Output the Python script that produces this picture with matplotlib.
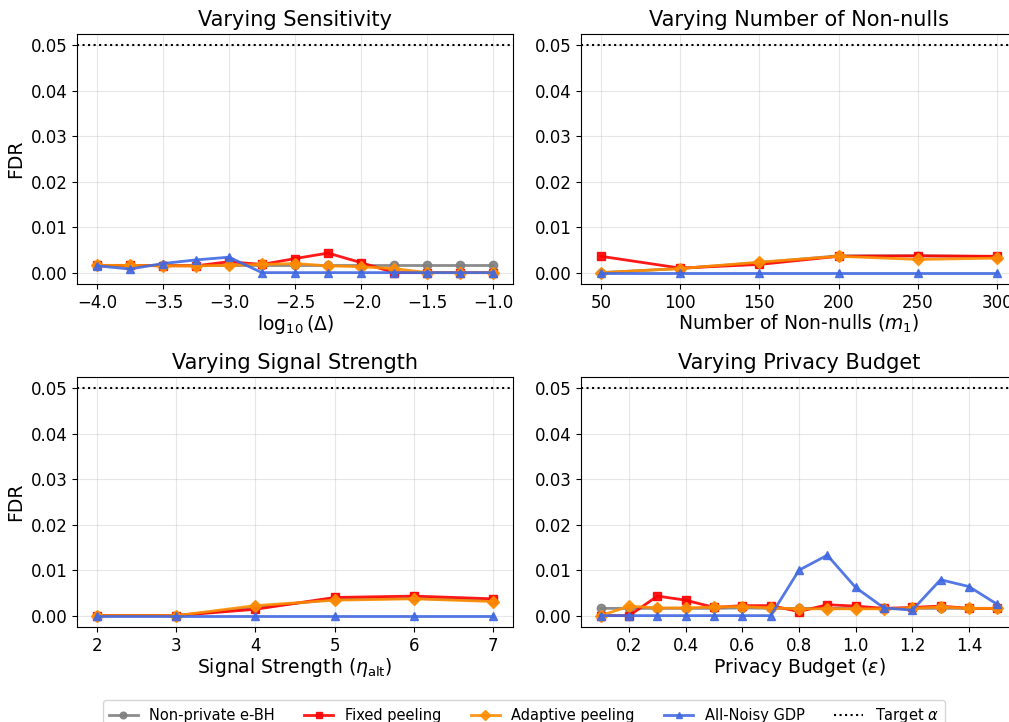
import matplotlib

matplotlib.use("Agg")
import matplotlib.pyplot as plt
import numpy as np

# ---- data ----
delta_log = [-4.0, -3.75, -3.5, -3.25, -3.0, -2.75, -2.5, -2.25, -2.0, -1.75, -1.5, -1.25, -1.0]
sens_ebh = [0.0016, 0.0016, 0.0016, 0.0016, 0.0016, 0.0016, 0.0016, 0.0016, 0.0016, 0.0016, 0.0016, 0.0016, 0.0016]
sens_fixed = [0.0016, 0.0016, 0.0015, 0.0015, 0.0024, 0.0018, 0.0031, 0.0043, 0.0022, 0.0, 0.0, 0.0, 0.0]
sens_adapt = [0.0016, 0.0016, 0.0015, 0.0015, 0.0016, 0.0018, 0.0020, 0.0015, 0.0013, 0.0009, 0.0, 0.0, 0.0]
sens_gdp = [0.0015, 0.0008, 0.0020, 0.0028, 0.0034, 0.0, 0.0, 0.0, 0.0, 0.0, 0.0, 0.0, 0.0]

m1 = [50, 100, 150, 200, 250, 300]
m1_ebh = [0.0, 0.0009, 0.0022, 0.0037, 0.0037, 0.0035]
m1_fixed = [0.0036, 0.0010, 0.0018, 0.0036, 0.0037, 0.0036]
m1_adapt = [0.0, 0.0009, 0.0023, 0.0036, 0.0029, 0.0032]
m1_gdp = [0.0, 0.0, 0.0, 0.0, 0.0, 0.0]

eta = [2, 3, 4, 5, 6, 7]
eta_ebh = [0.0, 0.0, 0.0018, 0.0036, 0.0038, 0.0033]
eta_fixed = [0.0, 0.0, 0.0014, 0.0040, 0.0043, 0.0037]
eta_adapt = [0.0, 0.0, 0.0022, 0.0034, 0.0037, 0.0031]
eta_gdp = [0.0, 0.0, 0.0, 0.0, 0.0, 0.0]

eps = [0.1, 0.2, 0.3, 0.4, 0.5, 0.6, 0.7, 0.8, 0.9, 1.0, 1.1, 1.2, 1.3, 1.4, 1.5]
eps_ebh = [0.0016, 0.0016, 0.0016, 0.0016, 0.0016, 0.0017, 0.0016, 0.0016, 0.0016, 0.0016, 0.0016, 0.0016, 0.0016, 0.0016, 0.0016]
eps_fixed = [0.0, 0.0, 0.0043, 0.0034, 0.0018, 0.0022, 0.0022, 0.0009, 0.0024, 0.0021, 0.0016, 0.0018, 0.0021, 0.0016, 0.0016]
eps_adapt = [0.0, 0.0021, 0.0017, 0.0017, 0.0019, 0.0020, 0.0017, 0.0015, 0.0015, 0.0015, 0.0015, 0.0016, 0.0019, 0.0016, 0.0016]
eps_gdp = [0.0, 0.0, 0.0, 0.0, 0.0, 0.0, 0.0, 0.0100, 0.0133, 0.0062, 0.0017, 0.0012, 0.0079, 0.0064, 0.0025]

target_alpha = 0.05

panels = [
    ("Varying Sensitivity", r"$\log_{10}(\Delta)$", delta_log, sens_ebh, sens_fixed, sens_adapt, sens_gdp, None),
    ("Varying Number of Non-nulls", r"Number of Non-nulls ($m_1$)", m1, m1_ebh, m1_fixed, m1_adapt, m1_gdp, None),
    ("Varying Signal Strength", r"Signal Strength ($\eta_{\mathrm{alt}}$)", eta, eta_ebh, eta_fixed, eta_adapt, eta_gdp, None),
    ("Varying Privacy Budget", r"Privacy Budget ($\varepsilon$)", eps, eps_ebh, eps_fixed, eps_adapt, eps_gdp,
     [0.2, 0.4, 0.6, 0.8, 1.0, 1.2, 1.4]),
]

W, H = 1009, 722
fig = plt.figure(figsize=(W / 100, H / 100), dpi=100)


def px_axes(left, top, width, height):
    return fig.add_axes([left / W, 1 - (top + height) / H, width / W, height / H])


boxes = [(77, 34), (581, 34), (77, 377), (581, 377)]
styles = [
    ("Non-private e-BH", "gray", "o"),
    ("Fixed peeling", "red", "s"),
    ("Adaptive peeling", "darkorange", "D"),
    ("All-Noisy GDP", "royalblue", "^"),
]

handles = None
for i, (title, xlabel, x, *series, ticks) in enumerate(panels):
    ax = px_axes(boxes[i][0], boxes[i][1], 436, 250)
    hs = []
    for (label, col, mk), y in zip(styles, series):
        (h,) = ax.plot(x, y, color=col, marker=mk, markersize=6, linewidth=2, alpha=0.9, label=label)
        hs.append(h)
    ht = ax.axhline(target_alpha, color="black", linestyle=":", linewidth=1.5, label=r"Target $\alpha$")
    hs.append(ht)
    handles = hs
    ax.set_ylim(-0.0025, 0.0525)
    ax.set_yticks([0.0, 0.01, 0.02, 0.03, 0.04, 0.05])
    ax.yaxis.set_major_formatter(matplotlib.ticker.FormatStrFormatter("%.2f"))
    if ticks is not None:
        ax.set_xticks(ticks)
    ax.grid(True, alpha=0.3)
    ax.tick_params(labelsize=12)
    ax.set_title(title, fontsize=15)
    ax.set_xlabel(xlabel, fontsize=13.5, labelpad=1)
    if i % 2 == 0:
        ax.set_ylabel("FDR", fontsize=13.5)

fig.legend(handles=handles, loc="upper center", bbox_to_anchor=(0.519, 1 - 700 / H), ncol=5,
           fontsize=10.5, frameon=True, handlelength=2.0, columnspacing=2.0, borderaxespad=0,
           markerscale=0.8)

fig.savefig("out.png", dpi=100)
